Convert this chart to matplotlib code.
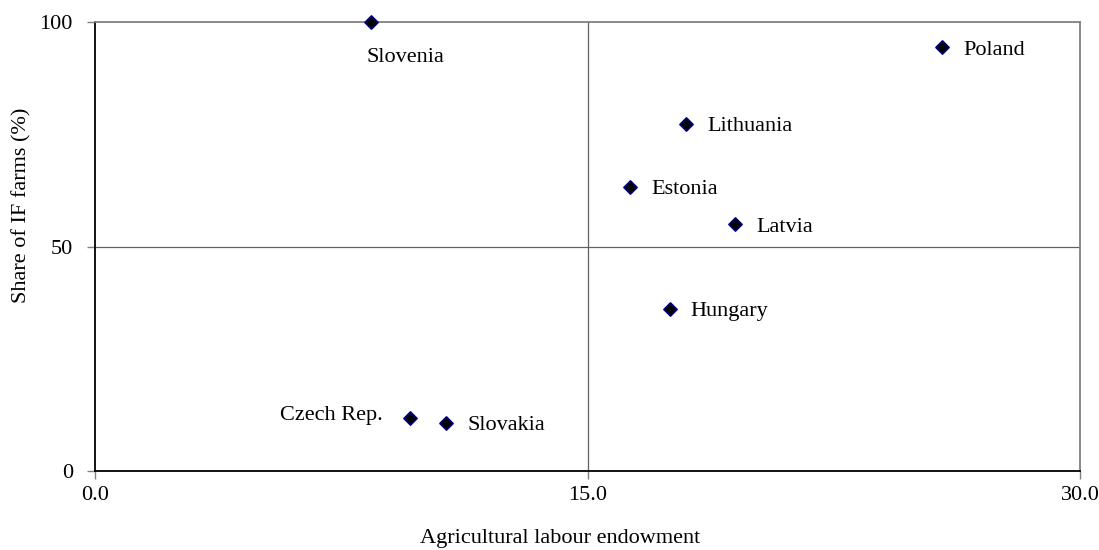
import matplotlib.pyplot as plt

countries = ['Slovenia', 'Poland', 'Lithuania', 'Estonia', 'Latvia', 'Hungary', 'Czech Rep.', 'Slovakia']
labour = [8.4, 25.8, 18.0, 16.3, 19.5, 17.5, 9.6, 10.7]
share_if = [100.0, 94.4, 77.3, 63.3, 55.0, 36.1, 11.8, 10.7]

plt.rcParams['font.family'] = ['Liberation Serif', 'DejaVu Serif']
fs = 16

fig = plt.figure(figsize=(10.99, 5.5), dpi=100)
ax = fig.add_axes([95 / 1099, 1 - 471 / 550, (1080 - 95) / 1099, (471 - 22) / 550])

ax.axvline(15, color='#606060', lw=0.9, zorder=1)
ax.axhline(50, color='#606060', lw=0.9, zorder=1)

ax.scatter(labour, share_if, marker='D', s=45, color='black', edgecolors='#000080',
           linewidths=1.2, zorder=3, clip_on=False)

for name, x, y in zip(countries, labour, share_if):
    if name == 'Slovenia':
        ax.annotate(name, (x, y), xytext=(-4, -35), textcoords='offset pixels',
                    ha='left', va='center', fontsize=fs)
    elif name == 'Czech Rep.':
        ax.annotate(name, (x, y), xytext=(-27, 3), textcoords='offset pixels',
                    ha='right', va='center', fontsize=fs)
    else:
        ax.annotate(name, (x, y), xytext=(21, -3), textcoords='offset pixels',
                    ha='left', va='center', fontsize=fs)

ax.set_xlim(0, 30)
ax.set_ylim(0, 100)
ax.set_xticks([0, 15, 30])
ax.set_xticklabels(['0.0', '15.0', '30.0'])
ax.set_yticks([0, 50, 100])
ax.tick_params(labelsize=fs, color='#808080', length=6, width=1)
ax.tick_params(axis='x', pad=5)
ax.tick_params(axis='y', pad=10)

for s in ['top', 'right']:
    ax.spines[s].set_color('#808080')
    ax.spines[s].set_linewidth(1.3)
for s in ['left', 'bottom']:
    ax.spines[s].set_color('black')
    ax.spines[s].set_linewidth(1.3)

ax.set_xlabel('Agricultural labour endowment', fontsize=fs)
ax.xaxis.set_label_coords((560 - 95) / 985, -(538 - 471) / 449)
ax.xaxis.label.set_va('center')
ax.set_ylabel('Share of IF farms (%)', fontsize=fs)
ax.yaxis.set_label_coords(-(95 - 22) / 985, (471 - 205) / 449)
ax.yaxis.label.set_va('center')

fig.savefig('out.png', dpi=100)
